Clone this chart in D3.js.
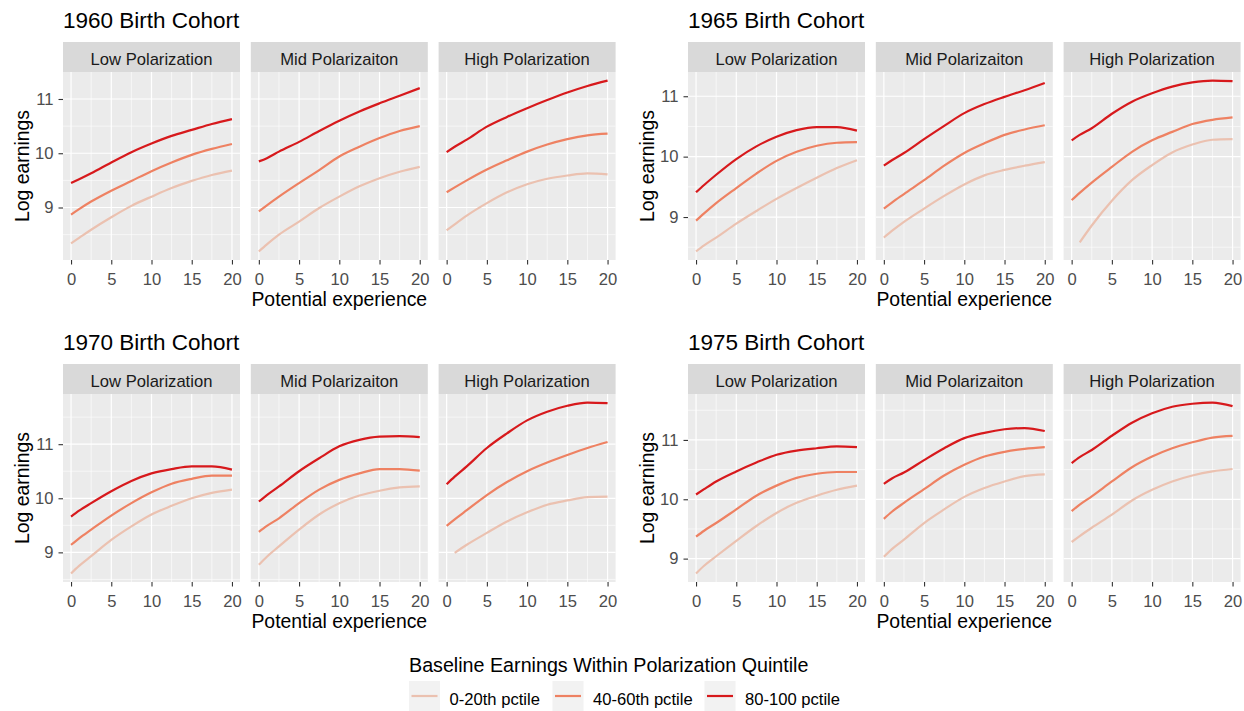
<!DOCTYPE html>
<html>
<head>
<meta charset="utf-8">
<script src="https://cdnjs.cloudflare.com/ajax/libs/d3/7.8.5/d3.min.js"></script>
<style>
	body { margin: 0; background: #fff; }
	svg { display: block; font-family: "Liberation Sans", Arial, sans-serif; }
</style>
</head>
<body>
<div id="chart"></div>
<script>
var xs = [0, 1, 2.5, 5, 7.5, 10, 12.5, 15, 17.5, 20];

var cohorts = ["1960", "1965", "1970", "1975"];
var facets = ["Low Polarization", "Mid Polarizaiton", "High Polarization"];
var groups = ["0-20th pctile", "40-60th pctile", "80-100 pctile"];
var groupColors = ["#ebc1b0", "#ee8162", "#d7191c"];
var xTicks = [0, 5, 10, 15, 20];
var yTicks = [9, 10, 11];

// each facet: [0-20th, 40-60th, 80-100]
var low1960 = [
	[8.34, 8.44, 8.59, 8.82, 9.03, 9.20, 9.36, 9.49, 9.60, 9.68],
	[8.87, 8.97, 9.11, 9.31, 9.49, 9.67, 9.83, 9.97, 10.08, 10.17],
	[9.45, 9.52, 9.63, 9.83, 10.02, 10.18, 10.32, 10.43, 10.54, 10.63]
];
var mid1960 = [
	[8.19, 8.32, 8.50, 8.74, 8.99, 9.20, 9.39, 9.54, 9.66, 9.75],
	[8.93, 9.04, 9.20, 9.45, 9.69, 9.94, 10.12, 10.28, 10.41, 10.50],
	[9.85, 9.91, 10.03, 10.21, 10.41, 10.60, 10.77, 10.92, 11.06, 11.20]
];
var high1960 = [
	[8.58, 8.69, 8.85, 9.08, 9.28, 9.43, 9.53, 9.59, 9.63, 9.61],
	[9.28, 9.37, 9.50, 9.70, 9.87, 10.03, 10.16, 10.26, 10.33, 10.36],
	[10.02, 10.12, 10.25, 10.49, 10.67, 10.83, 10.98, 11.12, 11.24, 11.34]
];
var low1965 = [
	[8.43, 8.53, 8.66, 8.89, 9.10, 9.30, 9.48, 9.65, 9.81, 9.94],
	[8.94, 9.06, 9.23, 9.48, 9.72, 9.93, 10.08, 10.18, 10.23, 10.24],
	[9.41, 9.53, 9.70, 9.96, 10.17, 10.33, 10.44, 10.49, 10.49, 10.43]
];
var mid1965 = [
	[8.66, 8.77, 8.92, 9.14, 9.35, 9.54, 9.69, 9.78, 9.85, 9.91],
	[9.14, 9.24, 9.38, 9.61, 9.85, 10.06, 10.22, 10.36, 10.45, 10.52],
	[9.85, 9.94, 10.06, 10.29, 10.51, 10.72, 10.87, 10.99, 11.10, 11.22]
];
var high1965 = [
	[null, 8.58, 8.86, 9.27, 9.61, 9.86, 10.07, 10.20, 10.28, 10.29],
	[9.28, 9.40, 9.57, 9.83, 10.08, 10.27, 10.41, 10.54, 10.61, 10.65],
	[10.27, 10.36, 10.47, 10.71, 10.91, 11.05, 11.16, 11.23, 11.26, 11.25]
];
var low1970 = [
	[8.61, 8.75, 8.93, 9.23, 9.48, 9.70, 9.86, 10.00, 10.10, 10.16],
	[9.14, 9.26, 9.42, 9.68, 9.91, 10.11, 10.27, 10.36, 10.42, 10.42],
	[9.66, 9.77, 9.91, 10.13, 10.32, 10.46, 10.54, 10.59, 10.59, 10.53]
];
var mid1970 = [
	[8.77, 8.92, 9.11, 9.42, 9.70, 9.91, 10.05, 10.14, 10.20, 10.22],
	[9.38, 9.49, 9.63, 9.91, 10.16, 10.34, 10.46, 10.54, 10.54, 10.51],
	[9.94, 10.06, 10.22, 10.50, 10.74, 10.96, 11.08, 11.14, 11.15, 11.13]
];
var high1970 = [
	[null, 8.99, 9.14, 9.36, 9.57, 9.74, 9.88, 9.96, 10.02, 10.03],
	[9.49, 9.61, 9.78, 10.06, 10.30, 10.50, 10.66, 10.80, 10.93, 11.04],
	[10.26, 10.40, 10.59, 10.93, 11.20, 11.44, 11.60, 11.71, 11.77, 11.76]
];
var low1975 = [
	[8.75, 8.88, 9.04, 9.30, 9.55, 9.77, 9.94, 10.06, 10.16, 10.23],
	[9.37, 9.47, 9.60, 9.83, 10.06, 10.23, 10.36, 10.43, 10.46, 10.46],
	[10.08, 10.17, 10.30, 10.47, 10.62, 10.75, 10.82, 10.86, 10.89, 10.88]
];
var mid1975 = [
	[9.03, 9.16, 9.32, 9.60, 9.83, 10.04, 10.19, 10.30, 10.39, 10.42],
	[9.67, 9.79, 9.94, 10.17, 10.40, 10.58, 10.72, 10.80, 10.85, 10.88],
	[10.26, 10.35, 10.45, 10.66, 10.86, 11.03, 11.12, 11.18, 11.20, 11.15]
];
var high1975 = [
	[9.28, 9.38, 9.52, 9.74, 9.98, 10.16, 10.30, 10.40, 10.47, 10.51],
	[9.80, 9.91, 10.05, 10.30, 10.54, 10.72, 10.86, 10.96, 11.04, 11.07],
	[10.61, 10.71, 10.83, 11.07, 11.29, 11.45, 11.56, 11.61, 11.63, 11.57]
];

var byCohort = {
	"1960": [low1960, mid1960, high1960],
	"1965": [low1965, mid1965, high1965],
	"1970": [low1970, mid1970, high1970],
	"1975": [low1975, mid1975, high1975]
};

(function(){
	var width = 1244, height = 711;
	var panelW = 177, panelGap = 10.8;
	var stripTop = 42, stripH = 30, panelTop = 72, panelBottom = 260;
	var blockDx = 625, blockDy = 322;

	var svg = d3.select("#chart")
		.append("svg")
		.attr("width", width)
		.attr("height", height);

	var line = d3.line()
		.defined(function(d){ return d[1] != null; })
		.curve(d3.curveMonotoneX);

	cohorts.forEach(function(c, ci){
		var ox = (ci % 2) * blockDx;
		var oy = Math.floor(ci / 2) * blockDy;
		var sets = byCohort[c];

		// shared y scale for the 3 facets, ggplot style 5% expansion
		var all = [];
		sets.forEach(function(s){ s.forEach(function(v){ v.forEach(function(d){ if (d != null) all.push(d); }); }); });
		var ext = d3.extent(all);
		var pad = (ext[1] - ext[0]) * 0.05;
		var y = d3.scaleLinear()
			.domain([ext[0] - pad, ext[1] + pad])
			.range([oy + panelBottom, oy + panelTop]);
		var yMinor = d3.range(8.5, 12, 1).filter(function(v){ return v > y.domain()[0] && v < y.domain()[1]; });

		var g = svg.append("g");

		g.append("text")
			.attr("x", ox + 63)
			.attr("y", oy + 27.5)
			.attr("font-size", 22.5)
			.attr("fill", "#000")
			.text(c + " Birth Cohort");

		facets.forEach(function(f, fi){
			var px = ox + 63 + fi * (panelW + panelGap);
			var x = d3.scaleLinear().domain([-1, 21]).range([px, px + panelW]);

			g.append("rect")
				.attr("x", px).attr("y", oy + stripTop)
				.attr("width", panelW).attr("height", stripH)
				.attr("fill", "#d9d9d9");
			g.append("text")
				.attr("x", px + panelW / 2)
				.attr("y", oy + 64.5)
				.attr("text-anchor", "middle")
				.attr("font-size", 16.6)
				.attr("fill", "#1a1a1a")
				.text(f);

			g.append("rect")
				.attr("x", px).attr("y", oy + panelTop)
				.attr("width", panelW).attr("height", panelBottom - panelTop)
				.attr("fill", "#ebebeb");

			// minor grid
			g.selectAll(null).data([2.5, 7.5, 12.5, 17.5]).enter().append("line")
				.attr("x1", function(d){ return x(d); }).attr("x2", function(d){ return x(d); })
				.attr("y1", oy + panelTop).attr("y2", oy + panelBottom)
				.attr("stroke", "#fff").attr("stroke-width", 0.6);
			g.selectAll(null).data(yMinor).enter().append("line")
				.attr("x1", px).attr("x2", px + panelW)
				.attr("y1", function(d){ return y(d); }).attr("y2", function(d){ return y(d); })
				.attr("stroke", "#fff").attr("stroke-width", 0.6);
			// major grid
			g.selectAll(null).data(xTicks).enter().append("line")
				.attr("x1", function(d){ return x(d); }).attr("x2", function(d){ return x(d); })
				.attr("y1", oy + panelTop).attr("y2", oy + panelBottom)
				.attr("stroke", "#fff").attr("stroke-width", 1.2);
			g.selectAll(null).data(yTicks).enter().append("line")
				.attr("x1", px).attr("x2", px + panelW)
				.attr("y1", function(d){ return y(d); }).attr("y2", function(d){ return y(d); })
				.attr("stroke", "#fff").attr("stroke-width", 1.2);

			sets[fi].forEach(function(vals, si){
				var pts = xs.map(function(xv, i){ return [xv, vals[i]]; });
				g.append("path")
					.attr("d", line.x(function(d){ return x(d[0]); }).y(function(d){ return y(d[1]); })(pts))
					.attr("fill", "none")
					.attr("stroke", groupColors[si])
					.attr("stroke-width", 2.2);
			});

			var xAxis = g.append("g")
				.attr("transform", "translate(0," + (oy + panelBottom) + ")")
				.call(d3.axisBottom(x).tickValues(xTicks).tickFormat(d3.format("d")).tickSize(4.5).tickPadding(8.5));
			styleAxis(xAxis);

			if (fi == 0) {
				var yAxis = g.append("g")
					.attr("transform", "translate(" + px + ",0)")
					.call(d3.axisLeft(y).tickValues(yTicks).tickFormat(d3.format("d")).tickSize(4.5).tickPadding(5));
				styleAxis(yAxis);
			}
			if (fi == 1) {
				g.append("text")
					.attr("x", px + panelW / 2)
					.attr("y", oy + 306)
					.attr("text-anchor", "middle")
					.attr("font-size", 19.4)
					.attr("fill", "#000")
					.text("Potential experience");
			}
		});

		g.append("text")
			.attr("transform", "translate(" + (ox + 29) + "," + (oy + (panelTop + panelBottom) / 2) + ") rotate(-90)")
			.attr("text-anchor", "middle")
			.attr("font-size", 19.4)
			.attr("fill", "#000")
			.text("Log earnings");
	});

	function styleAxis(a){
		a.select(".domain").remove();
		a.selectAll(".tick line").attr("stroke", "#333").attr("stroke-width", 1.1);
		a.selectAll(".tick text")
			.attr("fill", "#4d4d4d")
			.attr("font-size", 16.6)
			.attr("font-family", "Liberation Sans, Arial, sans-serif");
	}

	// legend
	var legend = svg.append("g");
	legend.append("text")
		.attr("x", 409).attr("y", 672)
		.attr("font-size", 19.7)
		.attr("fill", "#000")
		.text("Baseline Earnings Within Polarization Quintile");

	var keyX = [409, 552.5, 704.5];
	groups.forEach(function(gr, i){
		legend.append("rect")
			.attr("x", keyX[i]).attr("y", 681)
			.attr("width", 31).attr("height", 31)
			.attr("fill", "#f2f2f2");
		legend.append("line")
			.attr("x1", keyX[i] + 2.5).attr("x2", keyX[i] + 28.5)
			.attr("y1", 696).attr("y2", 696)
			.attr("stroke", groupColors[i])
			.attr("stroke-width", 2.2);
		legend.append("text")
			.attr("x", keyX[i] + 40.5).attr("y", 705)
			.attr("font-size", 16.6)
			.attr("fill", "#000")
			.text(gr);
	});
})();
</script>
</body>
</html>
